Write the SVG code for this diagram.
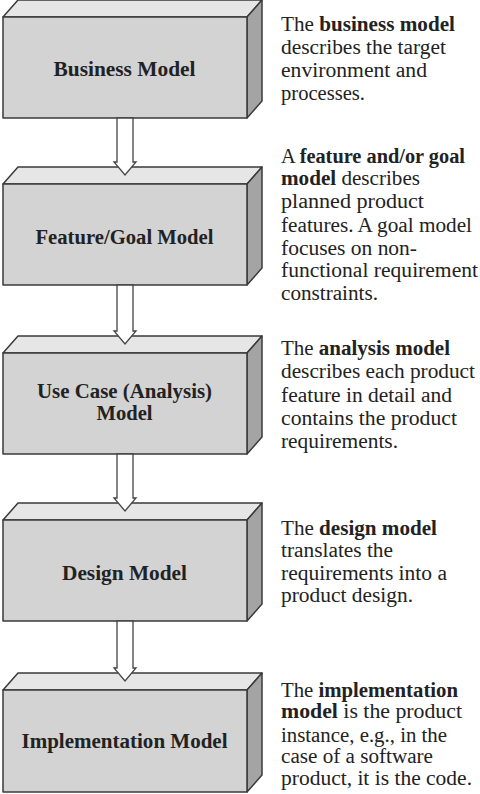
<svg xmlns="http://www.w3.org/2000/svg" width="480" height="794" viewBox="0 0 480 794">
<style>
.front{fill:#d3d3d3;stroke:#3a3a3a;stroke-width:1.5;stroke-linejoin:round}
.top{fill:#e6e6e6;stroke:#3a3a3a;stroke-width:1.5;stroke-linejoin:round}
.side{fill:#a4a4a4;stroke:#3a3a3a;stroke-width:1.5;stroke-linejoin:round}
.lbl{font-family:"Liberation Serif","Times New Roman",serif;font-weight:bold;font-size:20px;fill:#222;text-anchor:middle}
.desc{font-family:"Liberation Serif","Times New Roman",serif;font-size:20px;fill:#222}
.desc .b{font-weight:bold}
.arrow{fill:#fff;stroke:#444;stroke-width:1.3;stroke-linejoin:miter}
</style>
<rect width="480" height="794" fill="#fff"/>
<g id="node-business">
<polygon class="top" points="3,17 18,0 262,0 247,17"/>
<polygon class="side" points="247,17 262,0 262,101 247,118"/>
<rect class="front" x="3" y="17" width="244" height="101"/>
<text class="lbl" x="124.5" y="76" textLength="142" lengthAdjust="spacingAndGlyphs">Business Model</text>
</g>
<g id="node-feature">
<polygon class="top" points="3,184 18,167 262,167 247,184"/>
<polygon class="side" points="247,184 262,167 262,268 247,285"/>
<rect class="front" x="3" y="184" width="244" height="101"/>
<text class="lbl" x="124.5" y="244" textLength="178" lengthAdjust="spacingAndGlyphs">Feature/Goal Model</text>
</g>
<g id="node-usecase">
<polygon class="top" points="3,353 18,336 262,336 247,353"/>
<polygon class="side" points="247,353 262,336 262,437 247,454"/>
<rect class="front" x="3" y="353" width="244" height="101"/>
<text class="lbl" x="124.5" y="398" textLength="175" lengthAdjust="spacingAndGlyphs">Use Case (Analysis)</text>
<text class="lbl" x="124.5" y="420" textLength="56" lengthAdjust="spacingAndGlyphs">Model</text>
</g>
<g id="node-design">
<polygon class="top" points="3,520 18,503 262,503 247,520"/>
<polygon class="side" points="247,520 262,503 262,604 247,621"/>
<rect class="front" x="3" y="520" width="244" height="101"/>
<text class="lbl" x="124.5" y="580" textLength="125" lengthAdjust="spacingAndGlyphs">Design Model</text>
</g>
<g id="node-implementation">
<polygon class="top" points="3,690 18,673 262,673 247,690"/>
<polygon class="side" points="247,690 262,673 262,775 247,792"/>
<rect class="front" x="3" y="690" width="244" height="102"/>
<text class="lbl" x="124.5" y="748" textLength="206" lengthAdjust="spacingAndGlyphs">Implementation Model</text>
</g>
<g id="connectors">
<polygon class="arrow" points="117,118 133,118 133,162 136,162 125,175 114,162 117,162"/>
<polygon class="arrow" points="117,285 133,285 133,331 136,331 125,344 114,331 117,331"/>
<polygon class="arrow" points="117,454 133,454 133,498 136,498 125,511 114,498 117,498"/>
<polygon class="arrow" points="117,621 133,621 133,668 136,668 125,681 114,668 117,668"/>
</g>
<g id="descriptions" class="desc">
<text x="281" y="31" textLength="174" lengthAdjust="spacingAndGlyphs">The <tspan class="b">business model</tspan></text>
<text x="281" y="54" textLength="165" lengthAdjust="spacingAndGlyphs">describes the target</text>
<text x="281" y="77" textLength="146" lengthAdjust="spacingAndGlyphs">environment and</text>
<text x="281" y="100" textLength="84" lengthAdjust="spacingAndGlyphs">processes.</text>

<text x="281" y="163" textLength="184" lengthAdjust="spacingAndGlyphs">A <tspan class="b">feature and/or goal</tspan></text>
<text x="281" y="185" textLength="139" lengthAdjust="spacingAndGlyphs"><tspan class="b">model</tspan> describes</text>
<text x="281" y="208" textLength="143" lengthAdjust="spacingAndGlyphs">planned product</text>
<text x="281" y="232" textLength="191" lengthAdjust="spacingAndGlyphs">features. A goal model</text>
<text x="281" y="255" textLength="136" lengthAdjust="spacingAndGlyphs">focuses on non-</text>
<text x="281" y="277" textLength="197" lengthAdjust="spacingAndGlyphs">functional requirement</text>
<text x="281" y="300" textLength="97" lengthAdjust="spacingAndGlyphs">constraints.</text>

<text x="281" y="355" textLength="169" lengthAdjust="spacingAndGlyphs">The <tspan class="b">analysis model</tspan></text>
<text x="281" y="378" textLength="194" lengthAdjust="spacingAndGlyphs">describes each product</text>
<text x="281" y="402" textLength="171" lengthAdjust="spacingAndGlyphs">feature in detail and</text>
<text x="281" y="425" textLength="176" lengthAdjust="spacingAndGlyphs">contains the product</text>
<text x="281" y="448" textLength="117" lengthAdjust="spacingAndGlyphs">requirements.</text>

<text x="281" y="535" textLength="156" lengthAdjust="spacingAndGlyphs">The <tspan class="b">design model</tspan></text>
<text x="281" y="557" textLength="112" lengthAdjust="spacingAndGlyphs">translates the</text>
<text x="281" y="580" textLength="166" lengthAdjust="spacingAndGlyphs">requirements into a</text>
<text x="281" y="602" textLength="132" lengthAdjust="spacingAndGlyphs">product design.</text>

<text x="281" y="697" textLength="177" lengthAdjust="spacingAndGlyphs">The <tspan class="b">implementation</tspan></text>
<text x="281" y="718" textLength="181" lengthAdjust="spacingAndGlyphs"><tspan class="b">model</tspan> is the product</text>
<text x="281" y="742" textLength="166" lengthAdjust="spacingAndGlyphs">instance, e.g., in the</text>
<text x="281" y="763" textLength="152" lengthAdjust="spacingAndGlyphs">case of a software</text>
<text x="281" y="785" textLength="191" lengthAdjust="spacingAndGlyphs">product, it is the code.</text>
</g>
</svg>
